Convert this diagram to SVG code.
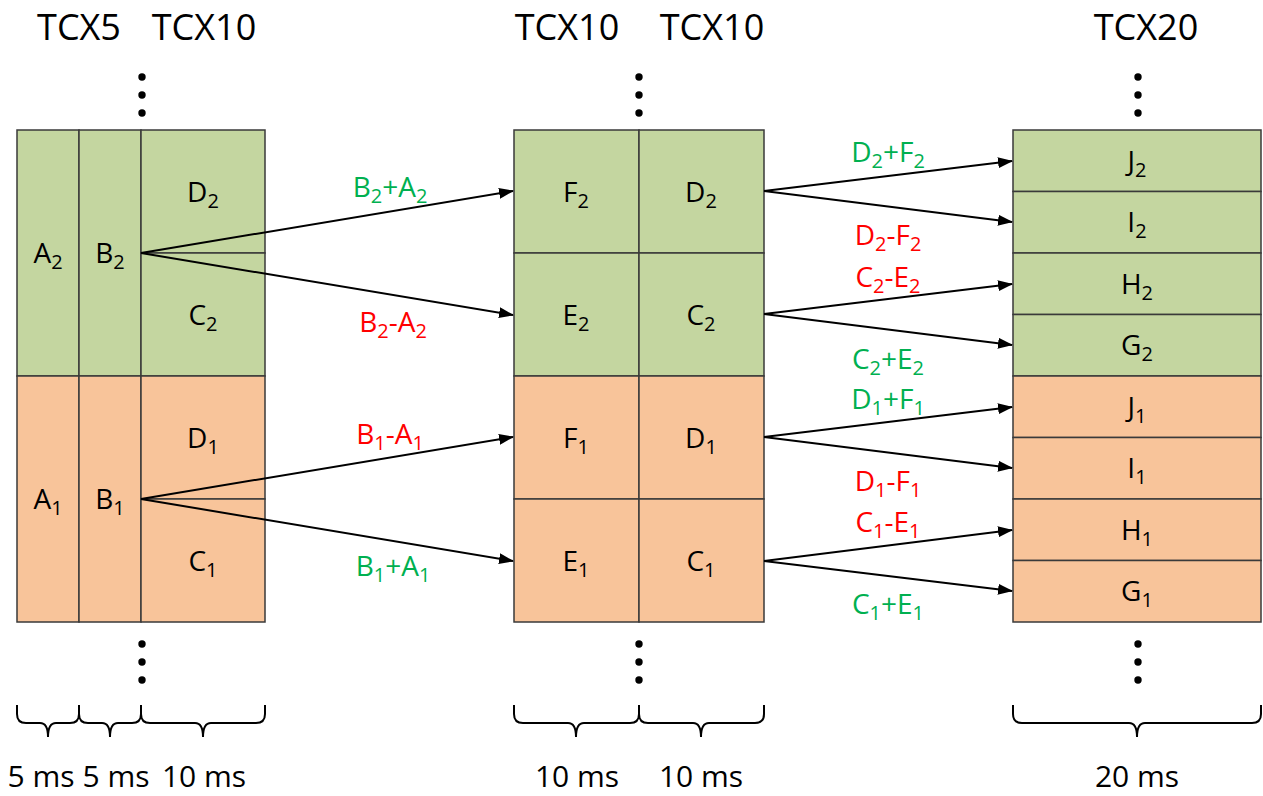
<svg xmlns="http://www.w3.org/2000/svg" width="1263" height="796" viewBox="0 0 1263 796">
<defs>
<style>
.g{fill:#C4D6A0;stroke:#3a3a3a;stroke-width:1.5}
.o{fill:#F8C49A;stroke:#3a3a3a;stroke-width:1.5}
.t{font-family:"Open Sans","Liberation Sans",sans-serif;font-size:28px;fill:#000;text-anchor:middle}
.s{font-size:20px}
.h{font-family:"Open Sans","Liberation Sans",sans-serif;font-size:36px;fill:#000;text-anchor:middle}
.b{font-family:"Open Sans","Liberation Sans",sans-serif;font-size:30px;fill:#000;text-anchor:middle}
.gr{fill:#00B050}
.rd{fill:#FF0000}
.c{stroke:#000;stroke-width:2;fill:none;marker-end:url(#ah)}
.br{stroke:#000;stroke-width:2;fill:none}
.dot{fill:#000}
</style>
<marker id="ah" markerWidth="15" markerHeight="11" refX="14" refY="5.5" orient="auto" markerUnits="userSpaceOnUse">
<path d="M0,0 L15,5.5 L0,11 Z" fill="#000"/>
</marker>
</defs>
<rect width="1263" height="796" fill="#fff"/>

<!-- headers -->
<g id="headers">
<text class="h" x="79" y="40">TCX5</text>
<text class="h" x="204" y="40">TCX10</text>
<text class="h" x="567" y="40">TCX10</text>
<text class="h" x="712" y="40">TCX10</text>
<text class="h" x="1146" y="40">TCX20</text>
</g>

<!-- dots -->
<g id="dots">
<circle class="dot" cx="142" cy="77" r="3.7"/><circle class="dot" cx="142" cy="95" r="3.7"/><circle class="dot" cx="142" cy="113" r="3.7"/>
<circle class="dot" cx="142" cy="644" r="3.7"/><circle class="dot" cx="142" cy="662" r="3.7"/><circle class="dot" cx="142" cy="680" r="3.7"/>
<circle class="dot" cx="639" cy="77" r="3.7"/><circle class="dot" cx="639" cy="95" r="3.7"/><circle class="dot" cx="639" cy="113" r="3.7"/>
<circle class="dot" cx="639" cy="644" r="3.7"/><circle class="dot" cx="639" cy="662" r="3.7"/><circle class="dot" cx="639" cy="680" r="3.7"/>
<circle class="dot" cx="1138" cy="77" r="3.7"/><circle class="dot" cx="1138" cy="95" r="3.7"/><circle class="dot" cx="1138" cy="113" r="3.7"/>
<circle class="dot" cx="1138" cy="644" r="3.7"/><circle class="dot" cx="1138" cy="662" r="3.7"/><circle class="dot" cx="1138" cy="680" r="3.7"/>
</g>

<!-- left block -->
<g id="A2"><rect class="g" x="17" y="130" width="62" height="246"/><text class="t" x="48" y="263">A<tspan class="s" dy="6">2</tspan></text></g>
<g id="B2"><rect class="g" x="79" y="130" width="62" height="246"/><text class="t" x="110" y="263">B<tspan class="s" dy="6">2</tspan></text></g>
<g id="D2L"><rect class="g" x="141" y="130" width="124" height="123"/><text class="t" x="203" y="202">D<tspan class="s" dy="6">2</tspan></text></g>
<g id="C2L"><rect class="g" x="141" y="253" width="124" height="123"/><text class="t" x="203" y="325">C<tspan class="s" dy="6">2</tspan></text></g>
<g id="A1"><rect class="o" x="17" y="376" width="62" height="246"/><text class="t" x="48" y="509">A<tspan class="s" dy="6">1</tspan></text></g>
<g id="B1"><rect class="o" x="79" y="376" width="62" height="246"/><text class="t" x="110" y="509">B<tspan class="s" dy="6">1</tspan></text></g>
<g id="D1L"><rect class="o" x="141" y="376" width="124" height="123"/><text class="t" x="203" y="448">D<tspan class="s" dy="6">1</tspan></text></g>
<g id="C1L"><rect class="o" x="141" y="499" width="124" height="123"/><text class="t" x="203" y="571">C<tspan class="s" dy="6">1</tspan></text></g>

<!-- middle block -->
<g id="F2"><rect class="g" x="514" y="130" width="125" height="123"/><text class="t" x="576" y="202">F<tspan class="s" dy="6">2</tspan></text></g>
<g id="D2M"><rect class="g" x="639" y="130" width="125" height="123"/><text class="t" x="701" y="202">D<tspan class="s" dy="6">2</tspan></text></g>
<g id="E2"><rect class="g" x="514" y="253" width="125" height="123"/><text class="t" x="576" y="325">E<tspan class="s" dy="6">2</tspan></text></g>
<g id="C2M"><rect class="g" x="639" y="253" width="125" height="123"/><text class="t" x="701" y="325">C<tspan class="s" dy="6">2</tspan></text></g>
<g id="F1"><rect class="o" x="514" y="376" width="125" height="123"/><text class="t" x="576" y="448">F<tspan class="s" dy="6">1</tspan></text></g>
<g id="D1M"><rect class="o" x="639" y="376" width="125" height="123"/><text class="t" x="701" y="448">D<tspan class="s" dy="6">1</tspan></text></g>
<g id="E1"><rect class="o" x="514" y="499" width="125" height="123"/><text class="t" x="576" y="571">E<tspan class="s" dy="6">1</tspan></text></g>
<g id="C1M"><rect class="o" x="639" y="499" width="125" height="123"/><text class="t" x="701" y="571">C<tspan class="s" dy="6">1</tspan></text></g>

<!-- right block -->
<g id="J2"><rect class="g" x="1013" y="130" width="248" height="61.5"/><text class="t" x="1137" y="171">J<tspan class="s" dy="6">2</tspan></text></g>
<g id="I2"><rect class="g" x="1013" y="191.5" width="248" height="61.5"/><text class="t" x="1137" y="232">I<tspan class="s" dy="6">2</tspan></text></g>
<g id="H2"><rect class="g" x="1013" y="253" width="248" height="61.5"/><text class="t" x="1137" y="294">H<tspan class="s" dy="6">2</tspan></text></g>
<g id="G2"><rect class="g" x="1013" y="314.5" width="248" height="61.5"/><text class="t" x="1137" y="355">G<tspan class="s" dy="6">2</tspan></text></g>
<g id="J1"><rect class="o" x="1013" y="376" width="248" height="61.5"/><text class="t" x="1137" y="417">J<tspan class="s" dy="6">1</tspan></text></g>
<g id="I1"><rect class="o" x="1013" y="437.5" width="248" height="61.5"/><text class="t" x="1137" y="478">I<tspan class="s" dy="6">1</tspan></text></g>
<g id="H1"><rect class="o" x="1013" y="499" width="248" height="61.5"/><text class="t" x="1137" y="540">H<tspan class="s" dy="6">1</tspan></text></g>
<g id="G1"><rect class="o" x="1013" y="560.5" width="248" height="61.5"/><text class="t" x="1137" y="601">G<tspan class="s" dy="6">1</tspan></text></g>

<!-- connectors -->
<g id="connectors">
<line class="c" x1="141" y1="253" x2="513" y2="191"/>
<line class="c" x1="141" y1="253" x2="513" y2="315"/>
<line class="c" x1="141" y1="499" x2="513" y2="437"/>
<line class="c" x1="141" y1="499" x2="513" y2="561"/>
<line class="c" x1="764" y1="191" x2="1012" y2="161"/>
<line class="c" x1="764" y1="191" x2="1012" y2="222"/>
<line class="c" x1="764" y1="314" x2="1012" y2="284"/>
<line class="c" x1="764" y1="314" x2="1012" y2="345"/>
<line class="c" x1="764" y1="437" x2="1012" y2="407"/>
<line class="c" x1="764" y1="437" x2="1012" y2="468"/>
<line class="c" x1="764" y1="561" x2="1012" y2="530"/>
<line class="c" x1="764" y1="561" x2="1012" y2="591"/>
</g>

<!-- connector labels -->
<g id="labels">
<text class="t gr" x="390" y="197">B<tspan class="s" dy="6">2</tspan><tspan dy="-6">+A</tspan><tspan class="s" dy="6">2</tspan></text>
<text class="t rd" x="393" y="332">B<tspan class="s" dy="6">2</tspan><tspan dy="-6">-A</tspan><tspan class="s" dy="6">2</tspan></text>
<text class="t rd" x="390" y="444">B<tspan class="s" dy="6">1</tspan><tspan dy="-6">-A</tspan><tspan class="s" dy="6">1</tspan></text>
<text class="t gr" x="393" y="576">B<tspan class="s" dy="6">1</tspan><tspan dy="-6">+A</tspan><tspan class="s" dy="6">1</tspan></text>
<text class="t gr" x="888" y="162">D<tspan class="s" dy="6">2</tspan><tspan dy="-6">+F</tspan><tspan class="s" dy="6">2</tspan></text>
<text class="t rd" x="888" y="245">D<tspan class="s" dy="6">2</tspan><tspan dy="-6">-F</tspan><tspan class="s" dy="6">2</tspan></text>
<text class="t rd" x="888" y="287">C<tspan class="s" dy="6">2</tspan><tspan dy="-6">-E</tspan><tspan class="s" dy="6">2</tspan></text>
<text class="t gr" x="888" y="369">C<tspan class="s" dy="6">2</tspan><tspan dy="-6">+E</tspan><tspan class="s" dy="6">2</tspan></text>
<text class="t gr" x="888" y="409">D<tspan class="s" dy="6">1</tspan><tspan dy="-6">+F</tspan><tspan class="s" dy="6">1</tspan></text>
<text class="t rd" x="888" y="491">D<tspan class="s" dy="6">1</tspan><tspan dy="-6">-F</tspan><tspan class="s" dy="6">1</tspan></text>
<text class="t rd" x="888" y="532">C<tspan class="s" dy="6">1</tspan><tspan dy="-6">-E</tspan><tspan class="s" dy="6">1</tspan></text>
<text class="t gr" x="888" y="614">C<tspan class="s" dy="6">1</tspan><tspan dy="-6">+E</tspan><tspan class="s" dy="6">1</tspan></text>
</g>

<!-- braces -->
<g id="braces">
<path class="br" d="M17,705 V714 Q17,723 26,723 H40 Q48,723 48,737 Q48,723 56,723 H70 Q79,723 79,714 V705"/>
<path class="br" d="M79,705 V714 Q79,723 88,723 H102 Q110,723 110,737 Q110,723 118,723 H132 Q141,723 141,714 V705"/>
<path class="br" d="M141,705 V714 Q141,723 150,723 H195 Q203,723 203,737 Q203,723 211,723 H256 Q265,723 265,714 V705"/>
<path class="br" d="M514,705 V714 Q514,723 523,723 H568 Q576,723 576,737 Q576,723 584,723 H630 Q639,723 639,714 V705"/>
<path class="br" d="M639,705 V714 Q639,723 648,723 H693 Q701,723 701,737 Q701,723 709,723 H755 Q764,723 764,714 V705"/>
<path class="br" d="M1013,705 V714 Q1013,723 1022,723 H1129 Q1137,723 1137,737 Q1137,723 1145,723 H1252 Q1261,723 1261,714 V705"/>
</g>

<g id="durations">
<text class="b" x="41" y="787">5 ms</text>
<text class="b" x="116" y="787">5 ms</text>
<text class="b" x="204" y="787">10 ms</text>
<text class="b" x="577" y="787">10 ms</text>
<text class="b" x="701" y="787">10 ms</text>
<text class="b" x="1137" y="787">20 ms</text>
</g>
</svg>
